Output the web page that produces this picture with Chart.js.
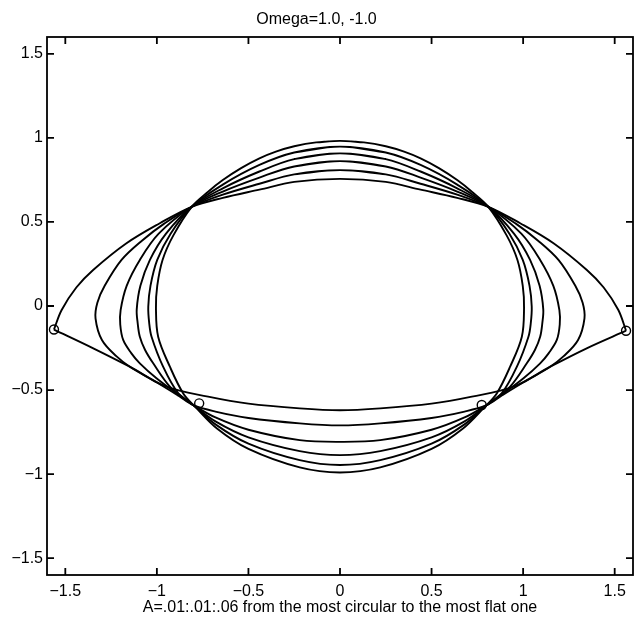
<!DOCTYPE html>
<html lang="en">
<head>
<meta charset="UTF-8">
<title>Omega=1.0, -1.0</title>
<script src="https://cdn.jsdelivr.net/npm/chart.js"></script>
<style>
  body { margin: 0; background: #fff; }
  #wrap { width: 641px; height: 622px; }
</style>
</head>
<body>
<div id="wrap"><canvas id="orbits"></canvas></div>
<script>
const xTicks = [-1.5, -1, -0.5, 0, 0.5, 1, 1.5];
const yTicks = [-1.5, -1, -0.5, 0, 0.5, 1, 1.5];

// A = .01 (most circular)
const curveA01 = [[0,0.982],[-0.13,0.973],[-0.25,0.95],[-0.35,0.918],[-0.44,0.878],[-0.54,0.82],[-0.64,0.749],[-0.72,0.68],[-0.81,0.59],[-0.91,0.42],[-0.969,0.274],[-0.998,0.12],[-1.005,-0.01],[-0.993,-0.183],[-0.929,-0.361],[-0.856,-0.52],[-0.79,-0.60],[-0.67,-0.73],[-0.5,-0.85],[-0.22,-0.96],[0,-0.99],
  [0.22,-0.96],[0.5,-0.85],[0.67,-0.73],[0.79,-0.60],[0.856,-0.52],[0.929,-0.361],[0.993,-0.183],[1.005,-0.01],[0.998,0.12],[0.969,0.274],[0.91,0.42],[0.81,0.59],[0.72,0.68],[0.64,0.749],[0.54,0.82],[0.44,0.878],[0.35,0.918],[0.25,0.95],[0.13,0.973],[0,0.982]];
// A = .02
const curveA02 = [[0,0.948],[-0.25,0.913],[-0.44,0.839],[-0.64,0.722],[-0.81,0.59],[-0.925,0.43],[-0.998,0.274],[-1.035,0.12],[-1.047,-0.004],[-1.042,-0.1],[-1.029,-0.183],[-0.966,-0.361],[-0.883,-0.52],[-0.80,-0.59],[-0.68,-0.704],[-0.5,-0.819],[-0.22,-0.917],[0,-0.946],
  [0.22,-0.917],[0.5,-0.819],[0.68,-0.704],[0.80,-0.59],[0.883,-0.52],[0.966,-0.361],[1.029,-0.183],[1.042,-0.1],[1.047,-0.004],[1.035,0.12],[0.998,0.274],[0.925,0.43],[0.81,0.59],[0.64,0.722],[0.44,0.839],[0.25,0.913],[0,0.948]];
// A = .03
const curveA03 = [[0,0.908],[-0.25,0.874],[-0.44,0.80],[-0.64,0.70],[-0.81,0.59],[-0.95,0.43],[-1.038,0.274],[-1.09,0.12],[-1.11,-0.02],[-1.105,-0.1],[-1.093,-0.183],[-1.065,-0.26],[-1.02,-0.341],[-0.929,-0.48],[-0.85,-0.55],[-0.80,-0.59],[-0.68,-0.686],[-0.5,-0.781],[-0.22,-0.863],[0,-0.887],
  [0.22,-0.863],[0.5,-0.781],[0.68,-0.686],[0.80,-0.59],[0.85,-0.55],[0.929,-0.48],[1.02,-0.341],[1.065,-0.26],[1.093,-0.183],[1.105,-0.1],[1.11,-0.02],[1.09,0.12],[1.038,0.274],[0.95,0.43],[0.81,0.59],[0.64,0.70],[0.44,0.80],[0.25,0.874],[0,0.908]];
// A = .04
const curveA04 = [[0,0.862],[-0.25,0.83],[-0.44,0.764],[-0.64,0.681],[-0.81,0.59],[-0.99,0.43],[-1.093,0.274],[-1.165,0.12],[-1.198,-0.024],[-1.2,-0.11],[-1.184,-0.202],[-1.14,-0.28],[-1.093,-0.341],[-1.002,-0.43],[-0.88,-0.53],[-0.80,-0.59],[-0.68,-0.663],[-0.5,-0.736],[-0.22,-0.798],[0,-0.808],
  [0.22,-0.798],[0.5,-0.736],[0.68,-0.663],[0.80,-0.59],[0.88,-0.53],[1.002,-0.43],[1.093,-0.341],[1.14,-0.28],[1.184,-0.202],[1.2,-0.11],[1.198,-0.024],[1.165,0.12],[1.093,0.274],[0.99,0.43],[0.81,0.59],[0.64,0.681],[0.44,0.764],[0.25,0.83],[0,0.862]];
// A = .05
const curveA05 = [[0,0.808],[-0.25,0.783],[-0.44,0.727],[-0.64,0.662],[-0.81,0.59],[-0.96,0.49],[-1.08,0.39],[-1.193,0.274],[-1.285,0.12],[-1.325,0.02],[-1.335,-0.073],[-1.3,-0.202],[-1.22,-0.30],[-1.148,-0.361],[-1.0,-0.455],[-0.88,-0.535],[-0.80,-0.59],[-0.68,-0.628],[-0.5,-0.666],[-0.22,-0.698],[0,-0.71],
  [0.22,-0.698],[0.5,-0.666],[0.68,-0.628],[0.80,-0.59],[0.88,-0.535],[1.0,-0.455],[1.148,-0.361],[1.22,-0.30],[1.3,-0.202],[1.335,-0.073],[1.325,0.02],[1.285,0.12],[1.193,0.274],[1.08,0.39],[0.96,0.49],[0.81,0.59],[0.64,0.662],[0.44,0.727],[0.25,0.783],[0,0.808]];
// A = .06 (most flat), upper and lower branches meet at the cusps
const curveA06Top = [[-1.562,-0.14],[-1.52,-0.024],[-1.44,0.11],[-1.348,0.214],[-1.166,0.373],[-0.984,0.492],[-0.81,0.59],[-0.64,0.643],[-0.44,0.692],[-0.25,0.738],[0,0.756],
  [0.25,0.738],[0.44,0.692],[0.64,0.643],[0.81,0.59],[0.984,0.492],[1.166,0.373],[1.348,0.214],[1.44,0.11],[1.52,-0.024],[1.562,-0.147]];
const curveA06Bottom = [[-1.562,-0.14],[-1.35,-0.25],[-1.148,-0.361],[-0.947,-0.48],[-0.72,-0.539],[-0.5,-0.581],[-0.22,-0.609],[0,-0.62],
  [0.22,-0.609],[0.5,-0.581],[0.72,-0.539],[0.947,-0.48],[1.148,-0.361],[1.35,-0.25],[1.562,-0.147]];
const markers = [[-1.562,-0.14],[1.562,-0.147],[-0.769,-0.579],[0.774,-0.589]];

const titleText = 'Omega=1.0, -1.0';
const xLabel = 'A=.01:.01:.06 from the most circular to the most flat one';

const fontFamily = '"Liberation Sans", Arial, Helvetica, sans-serif';
const toXY = arr => arr.map(p => ({x: p[0], y: p[1]}));

// closed loops: wrap one point on each end so the spline has no corner where it starts
function loop(points) {
    const n = points.length;
    return [points[n - 2]].concat(points, [points[1]]);
}

function curve(points) {
    return {
        data: toXY(points),
        showLine: true,
        borderColor: '#000',
        borderWidth: 1.9,
        pointRadius: 0,
        tension: 0.35,
        fill: false
    };
}

// box and inward ticks on all four sides, like matlab
const matlabBox = {
    id: 'matlabBox',
    afterDatasetsDraw(chart) {
        const {ctx, chartArea: a, scales: {x, y}} = chart;
        ctx.save();
        ctx.strokeStyle = '#000';
        ctx.lineWidth = 1.8;
        ctx.strokeRect(a.left, a.top, a.right - a.left, a.bottom - a.top);
        ctx.beginPath();
        xTicks.forEach(v => {
            const px = x.getPixelForValue(v);
            ctx.moveTo(px, a.bottom); ctx.lineTo(px, a.bottom - 7);
            ctx.moveTo(px, a.top); ctx.lineTo(px, a.top + 7);
        });
        yTicks.forEach(v => {
            const py = y.getPixelForValue(v);
            ctx.moveTo(a.left, py); ctx.lineTo(a.left + 7, py);
            ctx.moveTo(a.right, py); ctx.lineTo(a.right - 7, py);
        });
        ctx.stroke();
        ctx.restore();
    }
};

const tickText = v => String(v).replace('-', '\u2212');

new Chart(document.getElementById('orbits'), {
    type: 'scatter',
    data: {
        datasets: [
            curve(loop(curveA01)), curve(loop(curveA02)), curve(loop(curveA03)),
            curve(loop(curveA04)), curve(loop(curveA05)),
            curve(curveA06Top), curve(curveA06Bottom),
            {
                data: toXY(markers),
                showLine: false,
                pointStyle: 'circle',
                pointRadius: 4.5,
                pointBorderWidth: 1.4,
                pointBorderColor: '#000',
                pointBackgroundColor: 'rgba(0,0,0,0)'
            }
        ]
    },
    options: {
        responsive: true,
        maintainAspectRatio: false,
        animation: false,
        layout: { padding: { left: 0, right: 8, top: 0, bottom: 0 } },
        plugins: {
            legend: { display: false },
            tooltip: { enabled: false },
            title: {
                display: true,
                text: titleText,
                color: '#000',
                font: { family: fontFamily, size: 16, weight: 'normal' },
                padding: { top: 10, bottom: 7.8 }
            }
        },
        scales: {
            x: {
                type: 'linear',
                min: -1.6,
                max: 1.6,
                afterBuildTicks: s => { s.ticks = xTicks.map(v => ({value: v})); },
                afterFit: s => { s.height = 47; },
                grid: { display: false, drawTicks: false },
                border: { display: false },
                ticks: { color: '#000', padding: 7, maxRotation: 0, callback: tickText, font: { family: fontFamily, size: 16 } },
                title: {
                    display: true,
                    text: xLabel,
                    color: '#000',
                    font: { family: fontFamily, size: 16 },
                    padding: { top: 0, bottom: 5 }
                }
            },
            y: {
                type: 'linear',
                min: -1.6,
                max: 1.6,
                afterBuildTicks: s => { s.ticks = yTicks.map(v => ({value: v})); },
                afterFit: s => { s.width = 47; },
                grid: { display: false, drawTicks: false },
                border: { display: false },
                ticks: { color: '#000', padding: 4, callback: tickText, font: { family: fontFamily, size: 16 } }
            }
        }
    },
    plugins: [matlabBox]
});
</script>
</body>
</html>
